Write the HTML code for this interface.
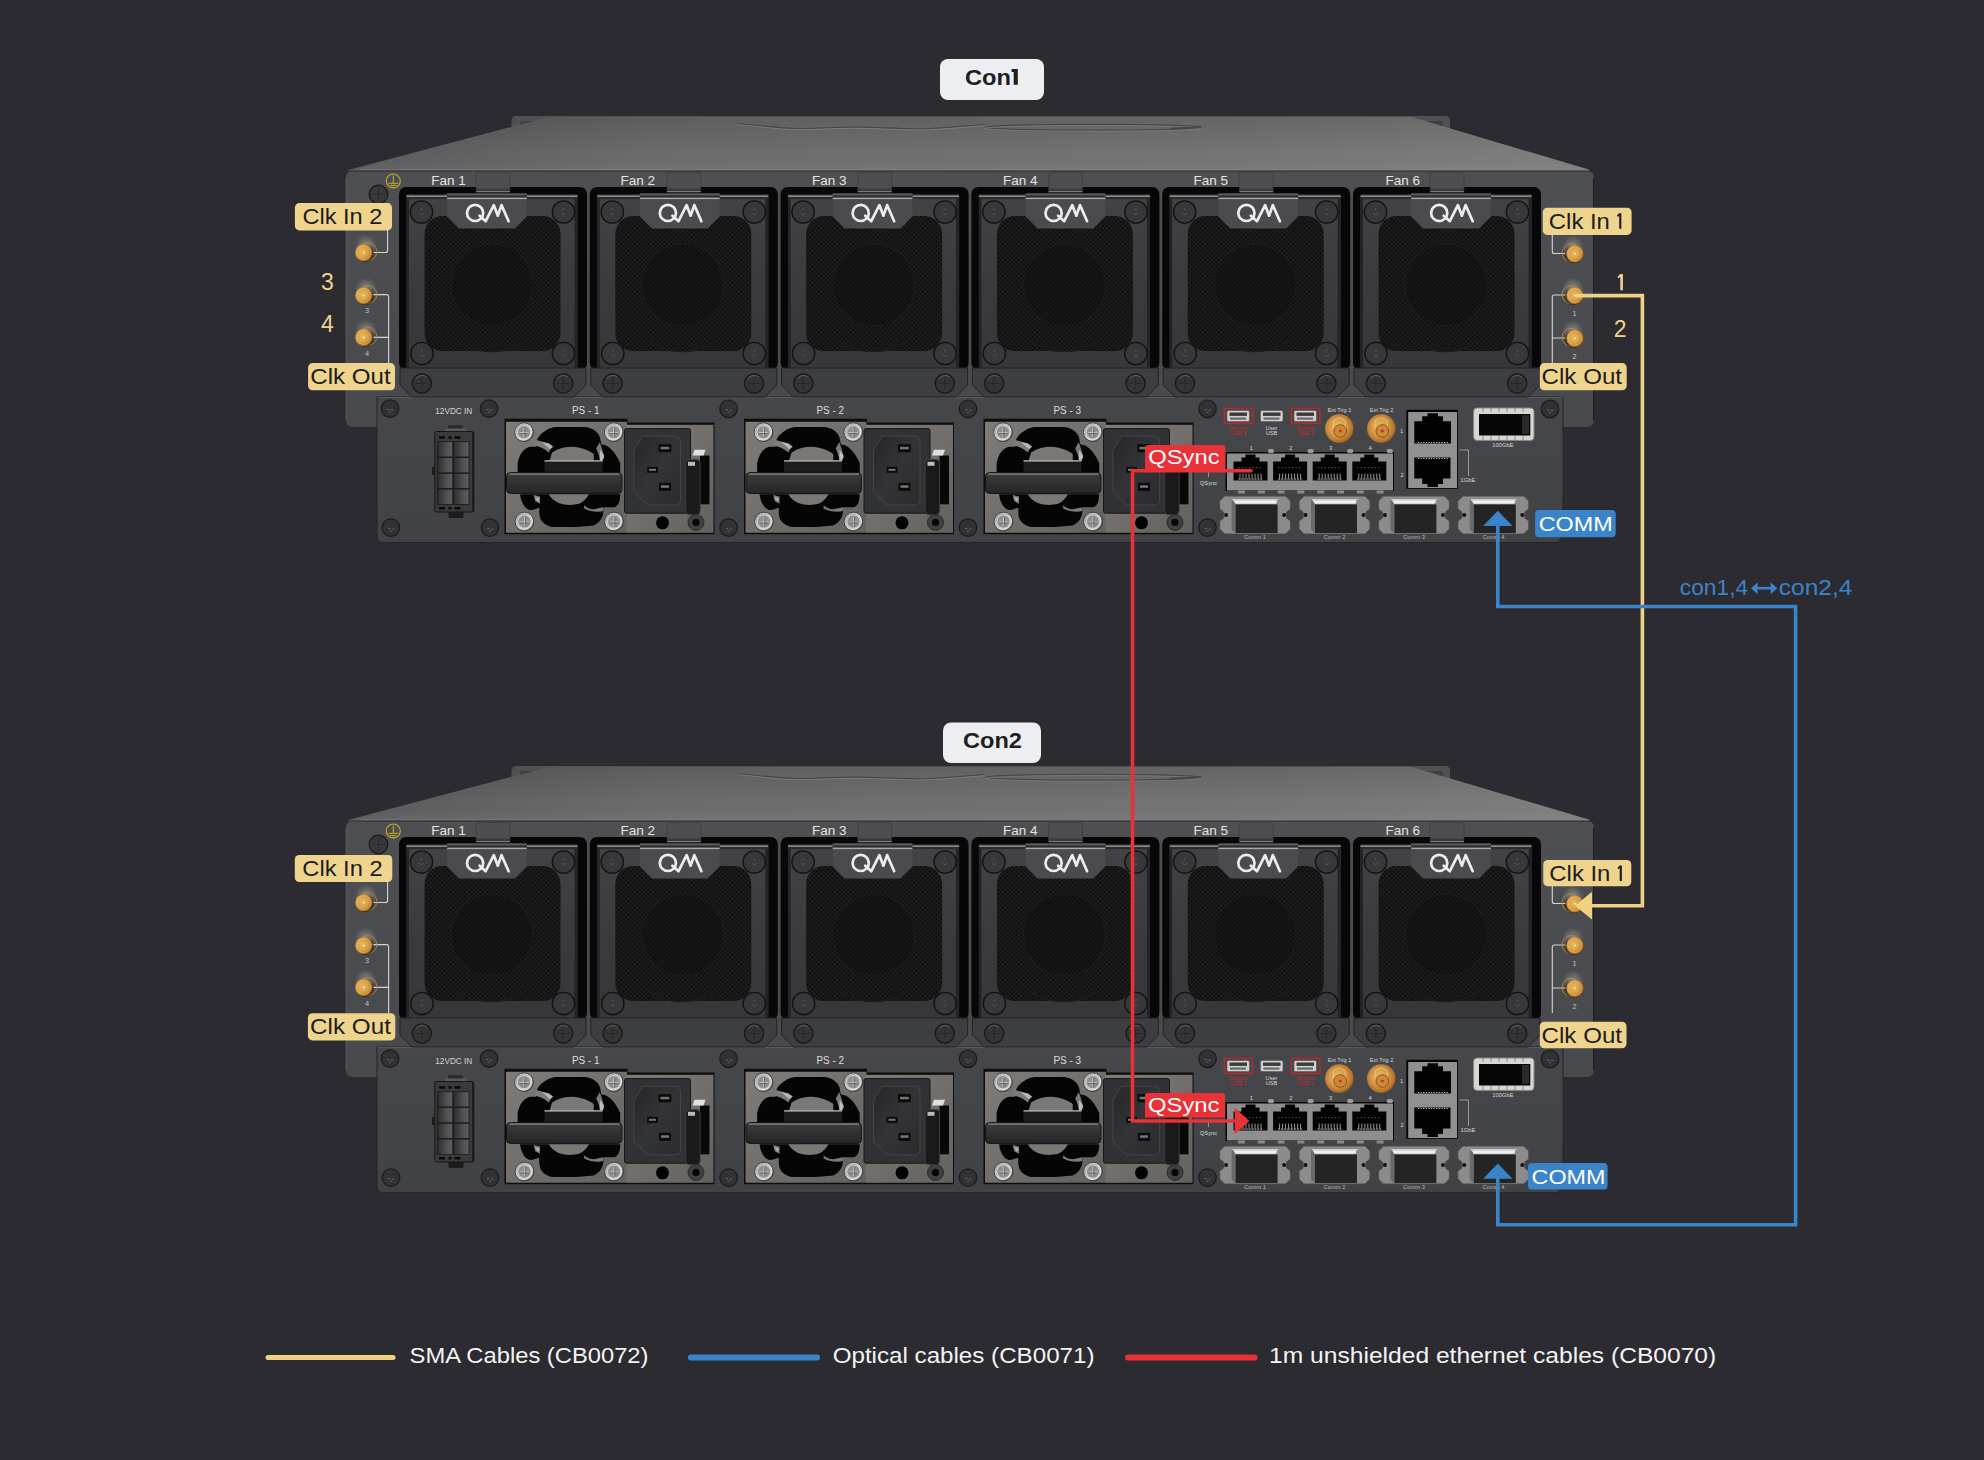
<!DOCTYPE html>
<html><head><meta charset="utf-8"><title>Con1 / Con2 cabling</title>
<style>html,body{margin:0;padding:0;background:#2c2b31;}body{width:1984px;height:1460px;overflow:hidden;font-family:"Liberation Sans",sans-serif;}svg{display:block;}svg text{font-family:"Liberation Sans",sans-serif;}</style>
</head><body>
<svg width="1984" height="1460" viewBox="0 0 1984 1460">
<defs>

<linearGradient id="gLid" x1="0" y1="0" x2="1" y2="0">
  <stop offset="0" stop-color="#5c5c5e"/><stop offset="0.25" stop-color="#6d6d6e"/><stop offset="0.7" stop-color="#757576"/><stop offset="1" stop-color="#808080"/>
</linearGradient>
<linearGradient id="gLidV" x1="0" y1="0" x2="0" y2="1">
  <stop offset="0" stop-color="#000" stop-opacity="0.14"/><stop offset="0.6" stop-color="#000" stop-opacity="0.02"/><stop offset="1" stop-color="#fff" stop-opacity="0.04"/>
</linearGradient>
<linearGradient id="gPanel" x1="0" y1="0" x2="0" y2="1">
  <stop offset="0" stop-color="#4e4f52"/><stop offset="1" stop-color="#48494c"/>
</linearGradient>
<linearGradient id="gPlate" x1="0" y1="0" x2="0" y2="1">
  <stop offset="0" stop-color="#424346"/><stop offset="0.5" stop-color="#3a3b3e"/><stop offset="1" stop-color="#36373a"/>
</linearGradient>
<linearGradient id="gCell" x1="0" y1="0" x2="1" y2="0">
  <stop offset="0" stop-color="#2c2c2e"/><stop offset="0.6" stop-color="#4e4f52"/><stop offset="1" stop-color="#5e5f62"/>
</linearGradient>
<linearGradient id="gLow" x1="0" y1="0" x2="0" y2="1">
  <stop offset="0" stop-color="#46474a"/><stop offset="1" stop-color="#414245"/>
</linearGradient>
<linearGradient id="gStrip" x1="0" y1="0" x2="0" y2="1">
  <stop offset="0" stop-color="#535457"/><stop offset="1" stop-color="#4e4f52"/>
</linearGradient>
<linearGradient id="gMetal" x1="0" y1="0" x2="1" y2="1">
  <stop offset="0" stop-color="#7e7b78"/><stop offset="0.5" stop-color="#716e6b"/><stop offset="1" stop-color="#63615e"/>
</linearGradient>
<linearGradient id="gHandle" x1="0" y1="0" x2="0" y2="1">
  <stop offset="0" stop-color="#56575a"/><stop offset="0.15" stop-color="#38393b"/><stop offset="1" stop-color="#262628"/>
</linearGradient>
<linearGradient id="gIec" x1="0" y1="0" x2="1" y2="1">
  <stop offset="0" stop-color="#262628"/><stop offset="0.5" stop-color="#333437"/><stop offset="1" stop-color="#2a2b2d"/>
</linearGradient>
<radialGradient id="gGold" cx="0.42" cy="0.45" r="0.6">
  <stop offset="0" stop-color="#e8b85e"/><stop offset="0.55" stop-color="#d8a24a"/><stop offset="0.85" stop-color="#b87a26"/><stop offset="1" stop-color="#7a4c12"/>
</radialGradient>
<radialGradient id="gGold2" cx="0.45" cy="0.45" r="0.6">
  <stop offset="0" stop-color="#f0c070"/><stop offset="0.5" stop-color="#d59a48"/><stop offset="0.85" stop-color="#b3722a"/><stop offset="1" stop-color="#6e4210"/>
</radialGradient>
<radialGradient id="gGlow" cx="0.5" cy="0.5" r="0.5">
  <stop offset="0" stop-color="#d8d2c8" stop-opacity="0.45"/><stop offset="1" stop-color="#d8d2c8" stop-opacity="0"/>
</radialGradient>
<radialGradient id="gSilver" cx="0.45" cy="0.45" r="0.55">
  <stop offset="0" stop-color="#8a8a8a"/><stop offset="0.6" stop-color="#a8a8a8"/><stop offset="0.85" stop-color="#e0e0e0"/><stop offset="1" stop-color="#505050"/>
</radialGradient>
<pattern id="pMesh" width="3.2" height="3.2" patternUnits="userSpaceOnUse" patternTransform="rotate(45)">
  <rect width="3.2" height="3.2" fill="#101010"/>
  <rect width="3.2" height="0.8" fill="#202021"/>
  <rect width="0.8" height="3.2" fill="#202021"/>
</pattern>
<g id="screwO"><circle r="11.2" fill="#37383b" stroke="#121212" stroke-width="1.3"/><path d="M-2,1 l2,2 l2,-2 M0,-4 v2" stroke="#6a6a6c" stroke-width="0.7" fill="none"/></g>
<g id="screwS"><circle r="8.8" fill="#313234" stroke="#1a1a1b" stroke-width="1.2"/><path d="M-3,1 h2.5 M1,1.5 h2.5 M-1,3.5 h2" stroke="#7a7a7a" stroke-width="0.7"/></g>
<g id="screwB"><circle r="9.6" fill="#333436" stroke="#181818" stroke-width="1.3"/><path d="M-6,0 h12 M0,-6 v12" stroke="#262627" stroke-width="0.9"/><path d="M-6,-5 A8,8 0 0 1 5,-6.5" stroke="#6a6a6a" stroke-width="0.8" fill="none"/></g>
<g id="screwM"><circle r="9.4" fill="url(#gSilver)" stroke="#3a3a3a" stroke-width="0.9"/><circle r="6.6" fill="#8e8e8e" stroke="#d8d8d8" stroke-width="0.9"/><path d="M-4.5,0.5 h9 M0,-4.5 v9" stroke="#e0e0e0" stroke-width="0.8"/><path d="M-4.5,1.3 h9 M0.8,-4.5 v9" stroke="#444" stroke-width="0.6"/></g>
<g id="sma">
  <circle cx="2" cy="-7" r="11" fill="url(#gGlow)"/>
  <circle cx="4" cy="-1" r="9" fill="none" stroke="#b88838" stroke-width="0.9"/>
  <circle cx="1.5" cy="1" r="8.8" fill="#3a2a10" opacity="0.6"/>
  <circle r="8.6" fill="url(#gGold)"/>
  <circle r="7" fill="none" stroke="#f2c878" stroke-width="0.7" opacity="0.7"/>
  <circle r="1.1" fill="#f5e2b8"/>
</g>
<g id="smaR">
  <circle cx="-2" cy="-7" r="11" fill="url(#gGlow)"/>
  <circle cx="-4" cy="-1" r="9" fill="none" stroke="#b88838" stroke-width="0.9"/>
  <circle cx="-1.5" cy="1" r="8.8" fill="#3a2a10" opacity="0.6"/>
  <circle r="8.6" fill="url(#gGold)"/>
  <circle r="7" fill="none" stroke="#f2c878" stroke-width="0.7" opacity="0.7"/>
  <circle r="1.1" fill="#f5e2b8"/>
</g>
<g id="rj">
  <path d="M0,7 H8 V3 H12 V0 H22 V3 H26 V7 H34 V26 H0 Z" fill="#030303"/>
  <path d="M6.5,25 v-6 M9.5,25 v-6 M12.5,25 v-6 M15.5,25 v-6 M18.5,25 v-6 M21.5,25 v-6 M24.5,25 v-6 M27.5,25 v-6" stroke="#d8d8d8" stroke-width="0.7"/>
  <path d="M5,24.5 H29" stroke="#e0e0e0" stroke-width="0.8" stroke-dasharray="1.2,1.6"/>
  <path d="M5,13 H29" stroke="#bbbbbb" stroke-width="0.6" stroke-dasharray="1,2.5"/>
</g>
<g id="sfp">
  <path d="M5,0 H66 L71,5 V13 L67,16 V22 L71,25 V33 L66,38 H5 L0,33 V25 L4,22 V16 L0,13 V5 Z" fill="#8b8b8b" stroke="#4a4a4a" stroke-width="1"/>
  <path d="M12,3 H59 L55,8 H16 Z" fill="#c9c9c9"/>
  <rect x="15" y="4.5" width="42" height="3" fill="#eeeeee"/>
  <path d="M12,3 L16,8 V37 L12,34 Z" fill="#6a6a6a"/>
  <rect x="16" y="8.5" width="42" height="28.5" fill="#242424"/>
  <circle cx="6.5" cy="19" r="2" fill="#111"/><circle cx="64.5" cy="19" r="2" fill="#111"/>
</g>


<g id="fanBody">
  <rect x="0" y="0" width="188" height="183" rx="7" fill="#070707"/>
  <rect x="7.5" y="7.5" width="171" height="174" fill="url(#gPlate)"/>
  <rect x="7.5" y="8.5" width="171" height="1.6" fill="#8a8a8c"/>
  <rect x="7.5" y="10.1" width="171" height="2" fill="#2a2a2c"/>
  <rect x="7.5" y="12" width="2.5" height="169" fill="#242426"/>
  <rect x="175.5" y="12" width="3" height="169" fill="#242426"/>
  <rect x="25.5" y="29" width="136" height="135" rx="18" fill="url(#pMesh)"/>
  <circle cx="93" cy="98" r="40" fill="#0d0d0d" opacity="0.35"/>
  <circle cx="93" cy="98" r="41" fill="none" stroke="#1b1b1b" stroke-width="1"/>
  <path d="M45,140 A58,58 0 0 0 140,140" stroke="#1d1d1d" stroke-width="1.3" fill="none"/>
  <use href="#screwO" x="22.5" y="25"/>
  <use href="#screwO" x="164.5" y="25"/>
  <use href="#screwO" x="23" y="166.5"/>
  <use href="#screwO" x="164.5" y="166.5"/>
  <path d="M1,181 H187 V198 L175,210 H13 L1,198 Z" fill="#3d3e41" stroke="#232325" stroke-width="1"/>
  <use href="#screwB" x="22.8" y="196.5"/>
  <use href="#screwB" x="164.2" y="196.5"/>
</g>
<g id="fanTab">
  <path d="M0,7 H79.7 V30 L67.8,42 H11.9 L0,30 Z" fill="#4a4b4e"/>
  <rect x="0" y="7" width="79.7" height="2" fill="#5a5b5e"/>
  <rect x="0" y="9" width="79.7" height="2" fill="#2c2c2e"/>
  <rect x="0" y="11.2" width="79.7" height="1.4" fill="#a8a8a8"/>
  <g fill="none" stroke="#ececec" stroke-width="2.7" stroke-linecap="round" stroke-linejoin="round">
    <circle cx="28" cy="26.4" r="8.1"/>
    <path d="M32.5,29.2 L38.6,34.7 L46.7,18.6 L50.7,29.2 L54.4,18.6 L61.5,34.7"/>
  </g>
</g>


<g id="psu">
  <path d="M0,0 H123 V3.8 H210 V115.5 H0 Z" fill="#0d0d0d"/>
  <rect x="1.5" y="3" width="121" height="111" rx="1" fill="url(#gMetal)"/>
  <rect x="122" y="6" width="87" height="108" fill="url(#gMetal)"/>
  <g transform="translate(-0.5,-0.8) scale(0.08015)">
    <clipPath id="cpFan"><rect x="40" y="40" width="1480" height="1380"/></clipPath>
    <g clip-path="url(#cpFan)">
    <path d="M640,112 L1010,112 C1120,125 1200,190 1205,280 L1215,330 C1290,330 1380,400 1450,560 L1450,700 L170,700 L170,560 C200,430 260,370 330,360 L400,360 C390,300 420,220 500,170 C560,130 600,115 640,112 Z" fill="#050505"/>
    <path d="M200,950 L1450,950 C1450,1050 1420,1100 1370,1115 L1240,1115 C1250,1200 1220,1300 1120,1340 L900,1360 L600,1360 C500,1340 440,1280 440,1180 L440,1120 C380,1140 330,1160 300,1140 C240,1100 210,1030 200,950 Z" fill="#050505"/>
    <path d="M400,275 C470,290 540,310 600,350 L560,430 C500,380 440,350 380,345 Z" fill="#7e7b78"/>
    <path d="M470,300 L560,315 L615,360 L575,390 Z" fill="#c8c8c8" opacity="0.8"/>
    <path d="M1195,300 C1215,360 1240,420 1250,500 L1200,540 C1190,470 1170,420 1150,380 Z" fill="#7c7976"/>
    <path d="M1200,400 L1250,470 L1230,540 L1195,520 Z" fill="#d0d0d0" opacity="0.8"/>
    <path d="M600,430 C680,380 760,360 850,360 C960,365 1050,400 1120,450 L1120,560 L560,560 Z" fill="#7a7774"/>
    <path d="M640,440 C700,410 780,395 860,395 C950,400 1030,430 1090,470 L1090,560 L600,560 Z" fill="#050505" opacity="0"/>
    <path d="M370,960 L450,980 L450,1070 L390,1040 Z" fill="#7e7b78"/>
    <path d="M380,990 L440,1000 L430,1050 Z" fill="#c8c8c8" opacity="0.7"/>
    <path d="M560,950 L1060,950 C1040,990 1000,1040 940,1070 C860,1090 760,1090 680,1060 C620,1030 580,990 560,950 Z" fill="#7a7774"/>
    <path d="M1000,1090 C1030,1120 1080,1140 1120,1140 L1240,1115 L1240,1160 C1180,1180 1080,1170 1000,1130 Z" fill="#7e7b78"/>
    </g>
  </g>
  <path d="M40,42 H98 V53 H40 Z" fill="#1d1d1e"/>
  <rect x="40" y="41.5" width="58" height="1.2" fill="#c8c8c8"/>
  <rect x="2" y="53.8" width="115.4" height="20.8" rx="4" fill="url(#gHandle)" stroke="#141414" stroke-width="1"/>
  <rect x="5" y="54.6" width="110" height="1.4" fill="#8a8a8a" opacity="0.8"/>
  <rect x="120" y="9.8" width="66" height="84.6" rx="2" fill="#313235" stroke="#161617" stroke-width="1"/>
  <path d="M138,17.4 H170 Q176,17.4 176,23.4 V81 Q176,86 171,86 H143 L129.5,73 V31.9 Z" fill="url(#gIec)" stroke="#4a4a4c" stroke-width="0.8"/>
  <rect x="154" y="25.4" width="12.8" height="8" fill="#0a0a0a"/><rect x="156" y="28" width="8.8" height="2.5" fill="#777"/>
  <rect x="142.7" y="48" width="10.8" height="6" fill="#0a0a0a"/><rect x="144.5" y="50" width="7" height="2" fill="#777"/>
  <rect x="154.5" y="64" width="12" height="8" fill="#0a0a0a"/><rect x="156.5" y="66.5" width="8" height="2.5" fill="#777"/>
  <rect x="195.5" y="36.7" width="9.5" height="48.8" fill="#080808"/>
  <rect x="181.2" y="40.7" width="14.5" height="55.3" rx="4" fill="#1a1a1b" stroke="#444" stroke-width="0.8"/>
  <rect x="183.5" y="43" width="7" height="4" fill="#bbb"/>
  <path d="M190,31 H201 L199,36.7 H188 Z" fill="#e0e0e0"/>
  <use href="#screwM" x="19.5" y="13.4"/>
  <use href="#screwM" x="109.3" y="13.4"/>
  <use href="#screwM" x="20" y="102.8"/>
  <use href="#screwM" x="109.5" y="102.8"/>
  <circle cx="158" cy="104" r="6.5" fill="#030303"/>
  <circle cx="191.5" cy="103.6" r="8" fill="#404042" stroke="#2a2a2a" stroke-width="1"/><circle cx="191.5" cy="103.6" r="3.6" fill="#080808"/>
</g>

<g id="dev">
<path d="M511.5,128 V121 Q511.5,116 516.5,116 H1445 Q1450,116 1450,121 V129 Z" fill="#505153"/>
<path d="M520,128 V123 Q520,121 522,121 H545 V128 Z" fill="#3e3f41"/>
<path d="M1420,128 V121 H1440 Q1443,121 1443,124 V129 Z" fill="#3e3f41"/>
<path d="M348,171.5 Q346,171.5 350,169.6 L549.3,117 H1411.3 L1588,169.2 Q1592,171.5 1589,171.5 Z" fill="url(#gLid)"/>
<path d="M348,171.5 L549.3,117 H1411.3 L1588,171.5 Z" fill="url(#gLidV)"/>
<path d="M360,169.5 H1580" stroke="#858585" stroke-width="1" opacity="0.5"/>
<path d="M737.6,123.8 C755,124.5 775,128.5 800,128.6 C820,128.7 835,127 858,127.2 C880,127.4 900,129.2 925,128.8 C945,128.4 965,126 985,124.6" stroke="#3e3e3e" stroke-width="1.3" fill="none" opacity="0.8"/>
<path d="M737.6,124.8 C755,125.5 775,129.5 800,129.6 C820,129.7 835,128 858,128.2 C880,128.4 900,130.2 925,129.8 C945,129.4 965,127 985,125.6" stroke="#9a9a9a" stroke-width="0.8" fill="none" opacity="0.6"/>
<ellipse cx="1093" cy="127.3" rx="108" ry="2.9" fill="none" stroke="#404040" stroke-width="1.3" opacity="0.8"/>
<ellipse cx="1093" cy="128.3" rx="108" ry="2.9" fill="none" stroke="#9a9a9a" stroke-width="0.7" opacity="0.5"/>
<path d="M1170,128.5 L1201,127" stroke="#404040" stroke-width="1.3" opacity="0.8"/>
<path d="M353,171 H1587 Q1594,171 1594,178 V420 Q1594,427 1587,427 H353 Q346,427 346,420 V178 Q346,171 353,171 Z" fill="url(#gPanel)"/>
<path d="M346,171 H1594" stroke="#2c2c2e" stroke-width="1.2"/>
<path d="M346.2,178 V420" stroke="#5e5f62" stroke-width="1"/>
<path d="M1593.6,178 V420" stroke="#1e1e20" stroke-width="1.2"/>
<path d="M377,397 H1563 V536 L1557.5,542.5 H383 Q377,542.5 377,536.5 Z" fill="url(#gLow)" stroke="#252527" stroke-width="1"/>
<path d="M378,397.5 H1562" stroke="#58595c" stroke-width="1"/>
<circle cx="393.3" cy="181" r="7" fill="none" stroke="#c8ad26" stroke-width="1.1"/>
<path d="M393.3,175.5 V183.3 M388.6,183.3 H398 M390.2,185.4 H396.4 M391.8,187.4 H394.8" stroke="#c8ad26" stroke-width="1"/>
<circle cx="378.5" cy="194.5" r="9.3" fill="#37383a" stroke="#1a1a1a" stroke-width="1.3"/><path d="M378.5,187 V202 M371,194.5 H386" stroke="#2a2a2a" stroke-width="0.9"/>
<use href="#fanBody" x="399.0" y="187"/>
<path d="M476.2,174 Q476.2,172.5 478.2,172.5 H508.0 Q510.0,172.5 510.0,174 V191 H476.2 Z" fill="#4d4e51" stroke="#3a3b3e" stroke-width="0.6"/>
<rect x="476.2" y="188.5" width="33.8" height="2.5" fill="#3a3a3c"/>
<rect x="476.2" y="191" width="33.8" height="1.3" fill="#7a7a7c"/>
<use href="#fanTab" x="447.1" y="186.5"/>
<use href="#fanBody" x="589.8" y="187"/>
<path d="M667.0,174 Q667.0,172.5 669.0,172.5 H698.8 Q700.8,172.5 700.8,174 V191 H667.0 Z" fill="#4d4e51" stroke="#3a3b3e" stroke-width="0.6"/>
<rect x="667.0" y="188.5" width="33.8" height="2.5" fill="#3a3a3c"/>
<rect x="667.0" y="191" width="33.8" height="1.3" fill="#7a7a7c"/>
<use href="#fanTab" x="639.9" y="186.5"/>
<use href="#fanBody" x="780.6" y="187"/>
<path d="M857.8,174 Q857.8,172.5 859.8,172.5 H889.6 Q891.6,172.5 891.6,174 V191 H857.8 Z" fill="#4d4e51" stroke="#3a3b3e" stroke-width="0.6"/>
<rect x="857.8" y="188.5" width="33.8" height="2.5" fill="#3a3a3c"/>
<rect x="857.8" y="191" width="33.8" height="1.3" fill="#7a7a7c"/>
<use href="#fanTab" x="832.7" y="186.5"/>
<use href="#fanBody" x="971.4" y="187"/>
<path d="M1048.6,174 Q1048.6,172.5 1050.6,172.5 H1080.4 Q1082.4,172.5 1082.4,174 V191 H1048.6 Z" fill="#4d4e51" stroke="#3a3b3e" stroke-width="0.6"/>
<rect x="1048.6" y="188.5" width="33.8" height="2.5" fill="#3a3a3c"/>
<rect x="1048.6" y="191" width="33.8" height="1.3" fill="#7a7a7c"/>
<use href="#fanTab" x="1025.6" y="186.5"/>
<use href="#fanBody" x="1162.2" y="187"/>
<path d="M1239.4,174 Q1239.4,172.5 1241.4,172.5 H1271.2 Q1273.2,172.5 1273.2,174 V191 H1239.4 Z" fill="#4d4e51" stroke="#3a3b3e" stroke-width="0.6"/>
<rect x="1239.4" y="188.5" width="33.8" height="2.5" fill="#3a3a3c"/>
<rect x="1239.4" y="191" width="33.8" height="1.3" fill="#7a7a7c"/>
<use href="#fanTab" x="1218.4" y="186.5"/>
<use href="#fanBody" x="1353.0" y="187"/>
<path d="M1430.2,174 Q1430.2,172.5 1432.2,172.5 H1462.0 Q1464.0,172.5 1464.0,174 V191 H1430.2 Z" fill="#4d4e51" stroke="#3a3b3e" stroke-width="0.6"/>
<rect x="1430.2" y="188.5" width="33.8" height="2.5" fill="#3a3a3c"/>
<rect x="1430.2" y="191" width="33.8" height="1.3" fill="#7a7a7c"/>
<use href="#fanTab" x="1411.2" y="186.5"/>
<g fill="#e4e4e4" font-size="13.6">
<text x="431.3" y="185" textLength="34.6" lengthAdjust="spacingAndGlyphs">Fan 1</text>
<text x="620.5" y="185" textLength="34.6" lengthAdjust="spacingAndGlyphs">Fan 2</text>
<text x="812" y="185" textLength="34.6" lengthAdjust="spacingAndGlyphs">Fan 3</text>
<text x="1003" y="185" textLength="34.6" lengthAdjust="spacingAndGlyphs">Fan 4</text>
<text x="1193.5" y="185" textLength="34.6" lengthAdjust="spacingAndGlyphs">Fan 5</text>
<text x="1385.5" y="185" textLength="34.6" lengthAdjust="spacingAndGlyphs">Fan 6</text>
</g>
<use href="#screwS" x="390" y="408.6"/>
<use href="#screwS" x="489" y="408.6"/>
<use href="#screwS" x="391" y="527.6"/>
<use href="#screwS" x="490" y="527.6"/>
<use href="#screwS" x="728.6" y="408.8"/>
<use href="#screwS" x="728.6" y="527.6"/>
<use href="#screwS" x="968" y="408.8"/>
<use href="#screwS" x="968" y="527.6"/>
<use href="#screwS" x="1207.5" y="408.8"/>
<use href="#screwS" x="1207.5" y="527.6"/>
<use href="#screwS" x="1550" y="409"/>
<text x="435.3" y="413.5" font-size="8.6" fill="#d4d4d4" textLength="37" lengthAdjust="spacingAndGlyphs">12VDC IN</text>
<rect x="448" y="425.2" width="15" height="7" rx="1" fill="#2a2a2c"/>
<rect x="445" y="428.5" width="21" height="3" fill="#5a5a5c"/>
<rect x="448.5" y="511.5" width="15" height="6.5" rx="1" fill="#1c1c1d"/>
<rect x="434.8" y="431.5" width="39" height="80.5" rx="1.5" fill="#3a3b3d" stroke="#151516" stroke-width="1"/>
<rect x="472" y="432" width="2" height="80" fill="#1c1c1d"/>
<rect x="432" y="467" width="3" height="8" fill="#1c1c1d"/>
<g stroke="#1a1a1a" stroke-width="0.8">
<rect x="437.3" y="441.7" width="15.4" height="15.2" fill="url(#gCell)"/>
<rect x="453.6" y="441.7" width="15.4" height="15.2" fill="url(#gCell)"/>
<rect x="437.3" y="457.6" width="15.4" height="15.2" fill="url(#gCell)"/>
<rect x="453.6" y="457.6" width="15.4" height="15.2" fill="url(#gCell)"/>
<rect x="437.3" y="473.4" width="15.4" height="15.2" fill="url(#gCell)"/>
<rect x="453.6" y="473.4" width="15.4" height="15.2" fill="url(#gCell)"/>
<rect x="437.3" y="489.2" width="15.4" height="15.2" fill="url(#gCell)"/>
<rect x="453.6" y="489.2" width="15.4" height="15.2" fill="url(#gCell)"/>
</g>
<path d="M439,437.5 h6 M448.5,437.5 h3 M454.5,437.5 h6 M439,508.3 h6 M448.5,508.3 h3 M454.5,508.3 h6" stroke="#0a0a0a" stroke-width="2.4"/>
<use href="#psu" x="504.5" y="418.8"/>
<use href="#psu" x="744" y="418.8"/>
<use href="#psu" x="983.5" y="418.8"/>
<g fill="#dedede" font-size="11.2">
<text x="572" y="413.6" textLength="27.5" lengthAdjust="spacingAndGlyphs">PS - 1</text>
<text x="816.5" y="413.6" textLength="27.5" lengthAdjust="spacingAndGlyphs">PS - 2</text>
<text x="1053.5" y="413.6" textLength="27.5" lengthAdjust="spacingAndGlyphs">PS - 3</text>
</g>
<rect x="1224.3" y="408.3" width="28.3" height="15" fill="none" stroke="#c0262c" stroke-width="1.3"/>
<rect x="1291.3" y="408.3" width="28.6" height="15" fill="none" stroke="#c0262c" stroke-width="1.3"/>
<rect x="1227" y="410.5" width="22.5" height="11" rx="1.5" fill="#cfcfcf" stroke="#555" stroke-width="0.6"/>
<rect x="1229.5" y="412.5" width="17.5" height="3.4" fill="#3a3a3a"/>
<rect x="1230" y="417.5" width="16" height="2.2" fill="#6a6a6a"/>
<rect x="1260.5" y="410.5" width="22.5" height="11" rx="1.5" fill="#cfcfcf" stroke="#555" stroke-width="0.6"/>
<rect x="1263.0" y="412.5" width="17.5" height="3.4" fill="#3a3a3a"/>
<rect x="1263.5" y="417.5" width="16" height="2.2" fill="#6a6a6a"/>
<rect x="1294" y="410.5" width="22.5" height="11" rx="1.5" fill="#cfcfcf" stroke="#555" stroke-width="0.6"/>
<rect x="1296.5" y="412.5" width="17.5" height="3.4" fill="#3a3a3a"/>
<rect x="1297" y="417.5" width="16" height="2.2" fill="#6a6a6a"/>
<g font-size="5.6" text-anchor="middle">
<text x="1238.5" y="429.5" fill="#c8262c">Service</text><text x="1238.5" y="434.6" fill="#c8262c">USB 1</text>
<text x="1271.5" y="429.5" fill="#d8d8d8">User</text><text x="1271.5" y="434.6" fill="#d8d8d8">USB</text>
<text x="1305.5" y="429.5" fill="#c8262c">Service</text><text x="1305.5" y="434.6" fill="#c8262c">USB 2</text>
<text x="1339.5" y="412" fill="#d8d8d8">Ext Trig 1</text><text x="1381.5" y="412" fill="#d8d8d8">Ext Trig 2</text>
</g>
<circle cx="1339.3" cy="428.6" r="14.3" fill="url(#gGold2)"/>
<path d="M1333.3,420.6 l6,-3 l6,3 v7 l-6,3 l-6,-3 Z" fill="none" stroke="#f3cf88" stroke-width="1" opacity="0.7"/>
<circle cx="1340.3" cy="431" r="6.3" fill="#c98a3a" stroke="#8a5418" stroke-width="1"/>
<circle cx="1340.3" cy="431" r="1.5" fill="#e8231f"/>
<circle cx="1381.3" cy="428.6" r="14.3" fill="url(#gGold2)"/>
<path d="M1375.3,420.6 l6,-3 l6,3 v7 l-6,3 l-6,-3 Z" fill="none" stroke="#f3cf88" stroke-width="1" opacity="0.7"/>
<circle cx="1382.3" cy="431" r="6.3" fill="#c98a3a" stroke="#8a5418" stroke-width="1"/>
<circle cx="1382.3" cy="431" r="1.5" fill="#e8231f"/>
<rect x="1225.5" y="452" width="168.5" height="39" fill="#050505"/>
<rect x="1227" y="453.5" width="166" height="37" fill="#8e8e8e"/>
<use href="#rj" x="1233.5" y="454.6"/>
<rect x="1268.0" y="449" width="6" height="4" rx="1.5" fill="#9a9a9a"/>
<use href="#rj" x="1273.1" y="454.6"/>
<rect x="1307.6" y="449" width="6" height="4" rx="1.5" fill="#9a9a9a"/>
<use href="#rj" x="1312.7" y="454.6"/>
<rect x="1347.2" y="449" width="6" height="4" rx="1.5" fill="#9a9a9a"/>
<use href="#rj" x="1352.3" y="454.6"/>
<rect x="1386.8" y="449" width="6" height="4" rx="1.5" fill="#9a9a9a"/>
<g fill="#7a7a7a">
<rect x="1238.0" y="490.5" width="7" height="3" fill="#8a8a8a"/>
<rect x="1257.8" y="490.5" width="7" height="3" fill="#8a8a8a"/>
<rect x="1277.6" y="490.5" width="7" height="3" fill="#8a8a8a"/>
<rect x="1297.4" y="490.5" width="7" height="3" fill="#8a8a8a"/>
<rect x="1317.2" y="490.5" width="7" height="3" fill="#8a8a8a"/>
<rect x="1337.0" y="490.5" width="7" height="3" fill="#8a8a8a"/>
<rect x="1356.8" y="490.5" width="7" height="3" fill="#8a8a8a"/>
<rect x="1376.6" y="490.5" width="7" height="3" fill="#8a8a8a"/>
</g>
<g font-size="5.8" fill="#d8d8d8" text-anchor="middle">
<text x="1251.3" y="450">1</text>
<text x="1290.9" y="450">2</text>
<text x="1330.5" y="450">3</text>
<text x="1370.1" y="450">4</text>
<text x="1208.5" y="485">QSync</text><text x="1401.5" y="432.5">1</text><text x="1402" y="476.5">2</text>
<text x="1468" y="482">1GbE</text><text x="1503" y="447">100GbE</text>
<text x="1255" y="539" fill="#b8b8b8">Comm 1</text><text x="1334.5" y="539" fill="#b8b8b8">Comm 2</text><text x="1414" y="539" fill="#b8b8b8">Comm 3</text><text x="1493.5" y="539" fill="#b8b8b8">Comm 4</text>
</g>
<path d="M1208.5,470 V477" stroke="#cfcfcf" stroke-width="0.6"/>
<rect x="1406.3" y="409.8" width="51.5" height="79" fill="#060606"/>
<rect x="1408.2" y="412" width="48.8" height="76" fill="#909090"/>
<path d="M1414.3,421.2 H1422.2 V416.3 H1427.5 V413.2 H1438 V416.3 H1443 V421.2 H1451 V443.5 H1414.3 Z" fill="#030303"/>
<path d="M1414.3,457.5 H1450.5 V478.6 H1443 V484 H1438 V487 H1427.5 V484 H1422.2 V478.6 H1414.3 Z" fill="#030303"/>
<path d="M1418,442.5 H1448" stroke="#dcdcdc" stroke-width="0.9" stroke-dasharray="1.2,1.4"/>
<path d="M1418,458.5 H1448" stroke="#dcdcdc" stroke-width="0.9" stroke-dasharray="1.2,1.4"/>
<path d="M1459.5,450 H1468.5 V476" stroke="#bdbdbd" stroke-width="0.7" fill="none"/>
<rect x="1473.6" y="408" width="60.4" height="32.4" rx="3.5" fill="#d9d7d2" stroke="#8a8884" stroke-width="1"/>
<path d="M1483,408 v4 M1491,408 v4 M1499,408 v4 M1507,408 v4 M1515,408 v4 M1523,408 v4 M1483,436 v4.4 M1491,436 v4.4 M1499,436 v4.4 M1507,436 v4.4 M1515,436 v4.4 M1523,436 v4.4" stroke="#6a6a66" stroke-width="0.7"/>
<rect x="1479" y="414" width="51.3" height="21.5" fill="#060606"/>
<rect x="1522" y="415" width="7" height="19" fill="#3a3a3a" opacity="0.7"/>
<use href="#sfp" x="1219.6" y="496"/>
<use href="#sfp" x="1299.0" y="496"/>
<use href="#sfp" x="1378.4" y="496"/>
<use href="#sfp" x="1457.8" y="496"/>
<path d="M387.6,230 V250.5 Q387.6,252.5 385.6,252.5 H372 M372,294.6 H386.6 Q388.6,294.6 388.6,296.6 V363 M372,337.4 H388.6" stroke="#d4d4d4" stroke-width="1.1" fill="none"/>
<use href="#sma" x="363.8" y="252.6"/>
<use href="#sma" x="363.8" y="295.5"/>
<use href="#sma" x="363.8" y="337.4"/>
<g font-size="7.4" fill="#c4c4c4" text-anchor="middle"><text x="367" y="313">3</text><text x="367" y="355.5">4</text></g>
<path d="M1552.3,235 V251.5 Q1552.3,253.5 1554.3,253.5 H1566 M1566,295 H1554.3 Q1552.3,295 1552.3,297 V363 M1566,338 H1552.3" stroke="#d4d4d4" stroke-width="1.1" fill="none"/>
<use href="#smaR" x="1575" y="253.8"/>
<use href="#smaR" x="1575" y="295.5"/>
<use href="#smaR" x="1575" y="338.3"/>
<g font-size="7.4" fill="#c4c4c4" text-anchor="middle"><text x="1574.5" y="316">1</text><text x="1574.5" y="358.5">2</text></g>
</g>
</defs>
<rect width="1984" height="1460" fill="#2c2b31"/>
<use href="#dev"/>
<use href="#dev" y="650"/>
<path d="M1576,295.6 H1642.4 V905.7 H1590" fill="none" stroke="#f0d181" stroke-width="3.6"/>
<path d="M1575,905.7 L1592,891.8 V919.6 Z" fill="#f0d181"/>
<path d="M1497.8,524 V606.5 H1795.6 V1224.7 H1497.8 V1177" fill="none" stroke="#3a84c9" stroke-width="3.6"/>
<path d="M1497.8,510.8 L1512.5,526 H1483.1 Z" fill="#3a84c9"/>
<path d="M1497.8,1163.5 L1512.5,1178.7 H1483.1 Z" fill="#3a84c9"/>
<path d="M1251,470.8 H1132.5 V1121 H1237" fill="none" stroke="#e83237" stroke-width="3.6" stroke-linecap="round"/>
<path d="M1249.5,1121 L1234.7,1107.8 V1134.2 Z" fill="#e83237"/>
<rect x="940" y="59" width="104" height="41" rx="8" fill="#edeef2"/>
<text x="964.93" y="85.0" font-size="22.2" fill="#1f1e21" font-weight="bold" textLength="46.04" lengthAdjust="spacingAndGlyphs">Con</text>
<path d="M1011.6,69 H1017.8 V84.8 H1013.7 V71.9 H1011.6 Z" fill="#1f1e21"/>
<rect x="943" y="722.4" width="98" height="40.6" rx="8" fill="#edeef2"/>
<text x="963.03" y="747.9" font-size="22.2" fill="#1f1e21" font-weight="bold" textLength="58.91" lengthAdjust="spacingAndGlyphs">Con2</text>
<rect x="294.9" y="203.1" width="97.1" height="27.3" rx="4.5" fill="#efd48d"/>
<text x="302.4" y="224.0" font-size="21.5" fill="#1c1c1e" textLength="79.98" lengthAdjust="spacingAndGlyphs">Clk In 2</text>
<rect x="308.1" y="363.1" width="86.9" height="27.2" rx="4.5" fill="#efd48d"/>
<text x="310.28" y="384.0" font-size="21.5" fill="#1c1c1e" textLength="80.4" lengthAdjust="spacingAndGlyphs">Clk Out</text>
<rect x="1542.8" y="207.7" width="88.8" height="27.2" rx="4.5" fill="#efd48d"/>
<text x="1548.89" y="228.8" font-size="21.5" fill="#1c1c1e" textLength="60.96" lengthAdjust="spacingAndGlyphs">Clk In</text>
<path d="M1619.20,213.20 H1621.35 V228.80 H1619.20 V215.78 L1617.80,216.90 L1616.90,215.60 Z" fill="#1c1c1e"/>
<rect x="1539.8" y="363.1" width="86.9" height="27.2" rx="4.5" fill="#efd48d"/>
<text x="1541.57" y="384.0" font-size="21.5" fill="#1c1c1e" textLength="80.5" lengthAdjust="spacingAndGlyphs">Clk Out</text>
<rect x="294.8" y="855" width="97.5" height="27" rx="4.5" fill="#efd48d"/>
<text x="302.3" y="875.9" font-size="21.5" fill="#1c1c1e" textLength="80.29" lengthAdjust="spacingAndGlyphs">Clk In 2</text>
<rect x="307.9" y="1013.3" width="87.4" height="27.1" rx="4.5" fill="#efd48d"/>
<text x="310.07" y="1034.2" font-size="21.5" fill="#1c1c1e" textLength="80.81" lengthAdjust="spacingAndGlyphs">Clk Out</text>
<rect x="1543.3" y="860" width="88" height="26.2" rx="4.5" fill="#efd48d"/>
<text x="1549.39" y="881.1" font-size="21.5" fill="#1c1c1e" textLength="60.96" lengthAdjust="spacingAndGlyphs">Clk In</text>
<path d="M1619.70,865.50 H1621.85 V881.10 H1619.70 V868.08 L1618.30,869.20 L1617.40,867.90 Z" fill="#1c1c1e"/>
<rect x="1539.8" y="1021.7" width="86.7" height="26.6" rx="4.5" fill="#efd48d"/>
<text x="1541.57" y="1042.6" font-size="21.5" fill="#1c1c1e" textLength="80.5" lengthAdjust="spacingAndGlyphs">Clk Out</text>
<g font-size="23" fill="#efd48d">
<text x="321" y="290.3">3</text><text x="321" y="332.2">4</text>
<text x="1613.8" y="337.2">2</text>
</g>
<path d="M1620.30,273.90 H1622.90 V290.20 H1620.30 V277.02 L1618.30,278.20 L1617.40,276.90 Z" fill="#efd48d"/>
<path d="M1145.1,469.5 V448 Q1145.1,445.1 1148,445.1 H1222.5 Q1225.4,445.1 1225.4,448 V469.5 Z" fill="#e83237"/>
<text x="1148.27" y="463.9" font-size="20.6" fill="#ffffff" textLength="71.35" lengthAdjust="spacingAndGlyphs">QSync</text>
<path d="M1145,1117.6 V1096 Q1145,1093 1148,1093 H1222 Q1225,1093 1225,1096 V1117.6 Z" fill="#e83237"/>
<text x="1148.07" y="1111.8" font-size="20.6" fill="#ffffff" textLength="71.35" lengthAdjust="spacingAndGlyphs">QSync</text>
<rect x="1535.1" y="510.1" width="80.6" height="27.2" rx="4" fill="#3a84c9"/>
<text x="1538.71" y="530.7" font-size="21" fill="#ffffff" textLength="73.9" lengthAdjust="spacingAndGlyphs">COMM</text>
<rect x="1528" y="1163" width="79.6" height="26.4" rx="4" fill="#3a84c9"/>
<text x="1531.61" y="1183.6" font-size="21" fill="#ffffff" textLength="73.9" lengthAdjust="spacingAndGlyphs">COMM</text>
<text x="1679.83" y="594.7" font-size="22" fill="#3a84c9" textLength="68.33" lengthAdjust="spacingAndGlyphs">con1,4</text>
<path d="M1754,588.2 H1774.5" stroke="#3a84c9" stroke-width="2.6"/>
<path d="M1751,588.2 L1757.6,582.2 V594.2 Z M1777.3,588.2 L1770.7,582.2 V594.2 Z" fill="#3a84c9"/>
<text x="1778.86" y="594.7" font-size="22" fill="#3a84c9" textLength="73.56" lengthAdjust="spacingAndGlyphs">con2,4</text>
<path d="M268,1357.4 H393" stroke="#f0d181" stroke-width="5" stroke-linecap="round"/>
<path d="M691,1357.5 H817" stroke="#3a84c9" stroke-width="6" stroke-linecap="round"/>
<path d="M1128,1357.5 H1254.5" stroke="#e83237" stroke-width="6" stroke-linecap="round"/>
<text x="409.63" y="1363.3" font-size="22" fill="#f4f4f4" textLength="238.84" lengthAdjust="spacingAndGlyphs">SMA Cables (CB0072)</text>
<text x="832.66" y="1363.3" font-size="22" fill="#f4f4f4" textLength="261.84" lengthAdjust="spacingAndGlyphs">Optical cables (CB0071)</text>
<text x="1269.13" y="1363.3" font-size="22" fill="#f4f4f4" textLength="447.1" lengthAdjust="spacingAndGlyphs">1m unshielded ethernet cables (CB0070)</text>
</svg></body></html>
